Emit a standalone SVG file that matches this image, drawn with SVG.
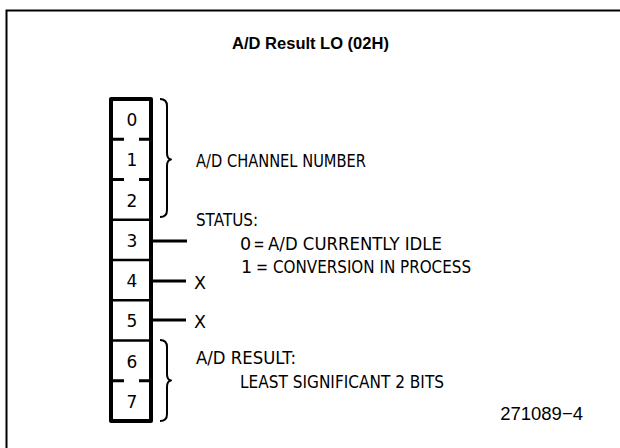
<svg xmlns="http://www.w3.org/2000/svg" width="620" height="448" viewBox="0 0 620 448">
<style>
.frame{fill:none;stroke:#000;stroke-width:2}
.outer{fill:#fff;stroke:#000;stroke-width:4;stroke-linejoin:round}
.div{stroke:#000;stroke-width:2.6;fill:none}
.dash{stroke:#000;stroke-width:3;fill:none}
.brace{fill:none;stroke:#000;stroke-width:2;stroke-linejoin:round}
.conn{stroke:#000;stroke-width:2.8;fill:none}
.cad{font-family:"DejaVu Sans","Liberation Sans",sans-serif;font-size:17.5px;fill:#000}
.digit{font-family:"DejaVu Sans","Liberation Sans",sans-serif;font-size:17px;fill:#000;text-anchor:middle}
.title{font-family:"Liberation Sans",Arial,sans-serif;font-size:16.5px;font-weight:bold;fill:#000;text-anchor:middle}
.note{font-family:"Liberation Sans",Arial,sans-serif;font-size:18.5px;fill:#000;text-anchor:end}
</style>
<path class="frame" d="M6.5,448 V10.5 H620"/>
<text class="title" x="310.5" y="49">A/D Result LO (02H)</text>
<g id="register">
<rect class="outer" x="111" y="99" width="40" height="322"/>
<g id="bit0"><text class="digit" x="132" y="126">0</text></g>
<g id="bit1"><path class="dash" d="M113,139.25 H124 M139,139.25 H149"/><text class="digit" x="132" y="166.3">1</text></g>
<g id="bit2"><path class="dash" d="M113,179.5 H124 M139,179.5 H149"/><text class="digit" x="132" y="206.5">2</text></g>
<g id="bit3"><path class="div" d="M111,219.75 H151"/><text class="digit" x="132" y="246.8">3</text></g>
<g id="bit4"><path class="div" d="M111,260 H151"/><text class="digit" x="132" y="287">4</text></g>
<g id="bit5"><path class="div" d="M111,300.25 H151"/><text class="digit" x="132" y="327.3">5</text></g>
<g id="bit6"><path class="div" d="M111,340.5 H151"/><text class="digit" x="132" y="367.5">6</text></g>
<g id="bit7"><path class="dash" d="M113,380.75 H124 M139,380.75 H149"/><text class="digit" x="132" y="407.8">7</text></g>
</g>
<g id="connectors">
<path class="brace" d="M160,99 Q167,99 167,106 V153 Q167,159 171,159.5 Q167,160 167,166 V210 Q167,217 160,217"/>
<path class="brace" d="M160,340 Q167,340 167,347 V374 Q167,380 171,380.5 Q167,381 167,387 V414 Q167,421 160,421"/>
<path class="conn" d="M151,241 H187"/>
<path class="conn" d="M151,281 H186"/>
<path class="conn" d="M151,320 H186"/>
</g>
<g id="label-channel"><text class="cad" x="196" y="167" textLength="170" lengthAdjust="spacingAndGlyphs">A/D CHANNEL NUMBER</text></g>
<g id="label-status">
<text class="cad" x="196" y="225.5" textLength="62" lengthAdjust="spacingAndGlyphs">STATUS:</text>
<text class="cad" y="249.5"><tspan x="240">0</tspan> <tspan x="253.5" textLength="11" lengthAdjust="spacingAndGlyphs">=</tspan> <tspan x="268" textLength="174" lengthAdjust="spacingAndGlyphs">A/D CURRENTLY IDLE</tspan></text>
<text class="cad" y="273"><tspan x="241">1</tspan> <tspan x="256" textLength="12" lengthAdjust="spacingAndGlyphs">=</tspan> <tspan x="273" textLength="198" lengthAdjust="spacingAndGlyphs">CONVERSION IN PROCESS</tspan></text>
</g>
<g id="label-x4"><text class="cad" x="194" y="288.5">X</text></g>
<g id="label-x5"><text class="cad" x="194" y="328">X</text></g>
<g id="label-result">
<text class="cad" x="196" y="364" textLength="100" lengthAdjust="spacingAndGlyphs">A/D RESULT:</text>
<text class="cad" x="240" y="387.5" textLength="204" lengthAdjust="spacingAndGlyphs">LEAST SIGNIFICANT 2 BITS</text>
</g>
<text class="note" x="583" y="420">271089−4</text>
</svg>
